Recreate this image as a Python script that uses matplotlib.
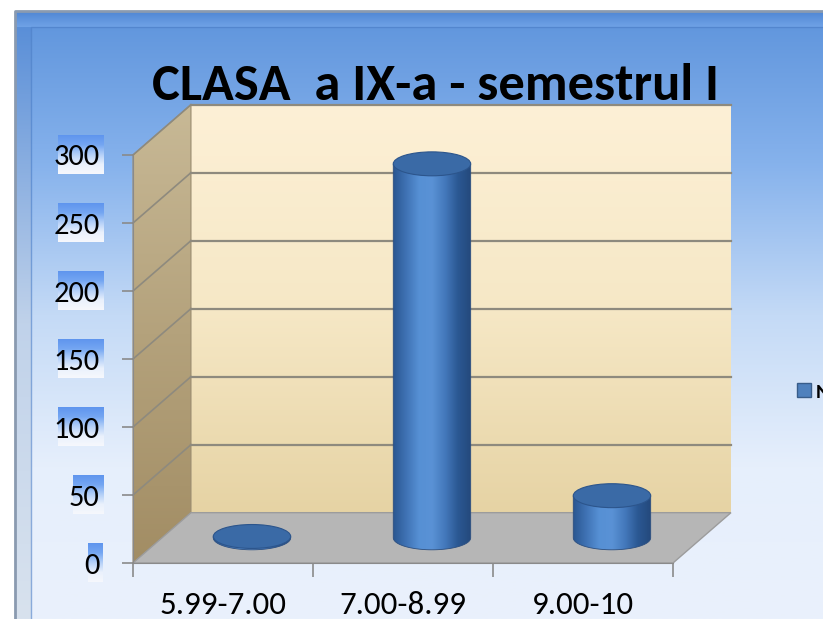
import numpy as np
import matplotlib
matplotlib.use("Agg")
import matplotlib.pyplot as plt
from matplotlib import font_manager
from matplotlib.patches import Polygon, Ellipse, Rectangle
from matplotlib.colors import LinearSegmentedColormap

# pick a narrow-ish font close to Calibri
installed = {f.name for f in font_manager.fontManager.ttflist}
wanted = ['Carlito', 'Liberation Sans Narrow', 'DejaVu Sans Condensed', 'Roboto Condensed', 'Lato', 'Roboto']
main_font = next((f for f in wanted if f in installed), 'DejaVu Sans')
plt.rcParams['font.family'] = [main_font, 'DejaVu Sans']

# data
categories = ["5.99-7.00", "7.00-8.99", "9.00-10"]
values = [1, 275, 31]
yticks = [0, 50, 100, 150, 200, 250, 300]
title = "CLASA  a IX-a - semestrul I"
series_name = "Nr. elevi"

W, H = 823, 619
fig = plt.figure(figsize=(W / 100, H / 100), dpi=100)
fig.patch.set_facecolor("white")
renderer = fig.canvas.get_renderer()


def fit(txt, target_px):
    # scale a text so that its width matches the reference
    w = txt.get_window_extent(renderer).width
    txt.set_fontsize(txt.get_fontsize() * target_px / w)


# ---- background frame (pixel coords) ----
bg = fig.add_axes([0, 0, 1, 1])
bg.set_xlim(0, W)
bg.set_ylim(H, 0)
bg.axis("off")
bg_cmap = LinearSegmentedColormap.from_list("bg", ["#5e94dc", "#86b2ec", "#c4daf6", "#e6effc", "#eaf1fc"])
grad = np.linspace(0, 1, 256).reshape(-1, 1)
bg.imshow(grad, cmap=bg_cmap, extent=[15, W, H, 11], aspect="auto", zorder=0)
bevel_top = LinearSegmentedColormap.from_list("bt", ["#4f86d4", "#6fa2e6"])
bg.imshow(np.linspace(0, 1, 32).reshape(-1, 1), cmap=bevel_top, extent=[15, W, 27, 11], aspect="auto", zorder=1)
bevel_left = LinearSegmentedColormap.from_list("bl", ["#5a8fd8", "#c0d2ea", "#d8e2ee"])
bg.imshow(grad, cmap=bevel_left, extent=[15, 31, H, 27], aspect="auto", zorder=1)
bg.plot([15, 15, W], [H, 11, 11], color="#8a9ab0", lw=2, zorder=3)
bg.plot([31, 31, W], [H, 27, 27], color="#4a7cc4", lw=1, alpha=0.6, zorder=3)

# ---- main chart axes (front plane) ----
ax = fig.add_axes([133 / W, 56 / H, 540 / W, 408 / H])
ax.set_zorder(2)
ax.patch.set_visible(False)
n = len(categories)
ymax = 300
DX = 0.322   # depth offset in category units
DY = 37.0    # depth offset in value units

# y-label highlight column
lab = fig.add_axes([58 / W, 56 / H, 45 / W, 408 / H])
lab.set_zorder(1)
lab.axis("off")
lab_cmap = LinearSegmentedColormap.from_list(
    "lab", ["#5f95ee", "#74a6f2", "#b4d0f8", "#eaf1fc", "#f6f8fd"])
for v in yticks:
    nd = len(str(v))
    lab.imshow(grad, cmap=lab_cmap, extent=[1 - nd / 3, 1, v - 14, v + 14],
               aspect="auto", clip_on=False)
lab.set_xlim(0, 1)
lab.set_ylim(0, ymax)

# side wall
side = Polygon([[0, 0], [DX, DY], [DX, ymax + DY], [0, ymax]], closed=True,
               facecolor="none", edgecolor="#9a8c70", lw=0.8, clip_on=False, zorder=1)
ax.add_patch(side)
side_cmap = LinearSegmentedColormap.from_list("side", ["#c8b996", "#b4a27c", "#a28d64"])
im = ax.imshow(grad, cmap=side_cmap, extent=[0, DX, 0, ymax + DY], aspect="auto", zorder=0.9)
im.set_clip_box(fig.bbox)
im.set_clip_path(side)

# back wall
wall_cmap = LinearSegmentedColormap.from_list("wall", ["#fdf0d6", "#f6e8c6", "#e6d3a4"])
ax.imshow(grad, cmap=wall_cmap, extent=[DX, n + DX, DY, ymax + DY], aspect="auto", zorder=0.9, clip_on=False)

# floor
ax.add_patch(Polygon([[0, 0], [DX, DY], [n + DX, DY], [n, 0]], closed=True,
                     facecolor="#b6b6b6", edgecolor="#9c9c9c", lw=1, clip_on=False, zorder=1))

# gridlines on back wall and side wall
for v in yticks[1:]:
    ax.plot([DX, n + DX], [v + DY, v + DY], color="#8e8a7e", lw=1.6, clip_on=False, zorder=1.2)
    ax.plot([0, DX], [v, v + DY], color="#8e8a7e", lw=1.2, clip_on=False, zorder=1.2)

# cylinders
r = 0.215          # half width, category units
h = 8.8            # half height of the ellipses, value units
body_cmap = LinearSegmentedColormap.from_list(
    "body", ["#2a5690", "#3f72b4", "#5690d4", "#5a92d6", "#4479bc", "#2b5893", "#24497c"])
t = np.linspace(np.pi, 2 * np.pi, 60)
for i, v in enumerate(values):
    cx = i + 0.5 + DX / 2
    cy = DY / 2
    pts = np.column_stack([cx + r * np.cos(t), cy + h * np.sin(t)])
    pts = np.vstack([pts, [[cx + r, cy + v], [cx - r, cy + v]]])
    body = Polygon(pts, closed=True, facecolor="none", edgecolor="#2c4f80", lw=0.6,
                   clip_on=False, zorder=3)
    ax.add_patch(body)
    bim = ax.imshow(np.linspace(0, 1, 256).reshape(1, -1), cmap=body_cmap,
                    extent=[cx - r, cx + r, cy - h, cy + v], aspect="auto", zorder=2.9)
    bim.set_clip_box(fig.bbox)
    bim.set_clip_path(body)
    ax.add_patch(Ellipse((cx, cy + v), 2 * r, 2 * h, facecolor="#3a6aa6",
                         edgecolor="#2c558c", lw=0.8, clip_on=False, zorder=3.2))

ax.set_xlim(0, n)
ax.set_ylim(0, ymax)

# axes / ticks
for s in ["top", "right"]:
    ax.spines[s].set_visible(False)
ax.spines["left"].set_color("#8a8a8a")
ax.spines["bottom"].set_color("#8a8a8a")
ax.set_yticks(yticks)
ax.set_yticklabels([str(v) for v in yticks])
ax.tick_params(axis="y", direction="out", length=8, width=1.2, color="#8a8a8a",
               pad=16, labelsize=22)
ax.set_xticks(range(n + 1))
ax.set_xticklabels([])
ax.tick_params(axis="x", which="major", direction="out", length=10, width=1.2, color="#8a8a8a")
ax.set_xticks([i + 0.5 for i in range(n)], minor=True)
ax.set_xticklabels(categories, minor=True)
ax.tick_params(axis="x", which="minor", length=0, labelsize=22)

# size the tick labels like the reference
ylabs = ax.get_yticklabels()
w300 = ylabs[-1].get_window_extent(renderer).width
ax.tick_params(axis="y", labelsize=22 * 46 / w300)
xlabs = ax.get_xticklabels(minor=True)
wx = xlabs[0].get_window_extent(renderer).width
ax.tick_params(axis="x", which="minor", labelsize=22 * 126 / wx, pad=20)

# legend (cut at right edge, as in the original)
handle = Rectangle((0, 0), 1, 1, facecolor="#4f81bd", edgecolor="#385d8a")
fig.legend([handle], [series_name], loc="center left", bbox_to_anchor=(797 / W, 1 - 392 / H),
           frameon=False, borderpad=0, borderaxespad=0, handlelength=0.65, handleheight=0.65,
           handletextpad=0.25, prop={"size": 15, "weight": "bold"})

ttl = fig.text(435 / W, 1 - 100 / H, title, ha="center", va="baseline", fontsize=36,
               fontweight="bold", color="black")
fit(ttl, 566)

fig.savefig("out.png", dpi=100)
